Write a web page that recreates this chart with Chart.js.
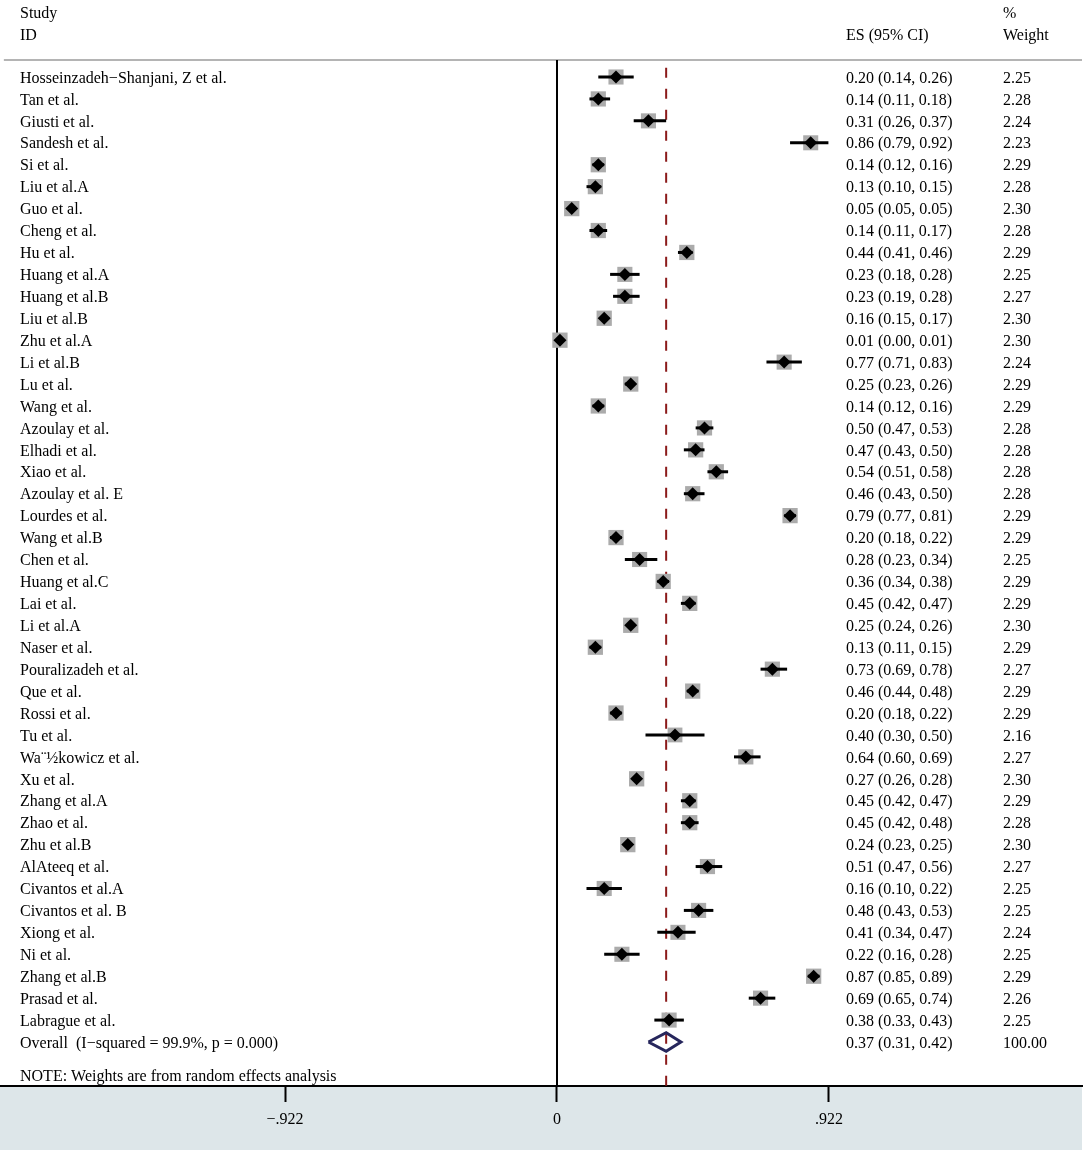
<!DOCTYPE html>
<html>
<head>
<meta charset="utf-8">
<script src="https://cdn.jsdelivr.net/npm/chart.js@4.4.1/dist/chart.umd.min.js"></script>
<style>
  html, body { margin: 0; padding: 0; background: #fff; }
  #wrap { position: relative; width: 1084px; height: 1154px; }
</style>
</head>
<body>
<div id="wrap"><canvas id="forest"></canvas></div>
<script>
// study rows, top to bottom
var studies = [
  "Hosseinzadeh\u2212Shanjani, Z et al.", "Tan et al.", "Giusti et al.", "Sandesh et al.",
  "Si et al.", "Liu et al.A", "Guo et al.", "Cheng et al.", "Hu et al.", "Huang et al.A",
  "Huang et al.B", "Liu et al.B", "Zhu et al.A", "Li et al.B", "Lu et al.", "Wang et al.",
  "Azoulay et al.", "Elhadi et al.", "Xiao et al.", "Azoulay et al. E", "Lourdes et al.",
  "Wang et al.B", "Chen et al.", "Huang et al.C", "Lai et al.", "Li et al.A", "Naser et al.",
  "Pouralizadeh et al.", "Que et al.", "Rossi et al.", "Tu et al.", "Wa\u00A8\u00BDkowicz et al.",
  "Xu et al.", "Zhang et al.A", "Zhao et al.", "Zhu et al.B", "AlAteeq et al.",
  "Civantos et al.A", "Civantos et al. B", "Xiong et al.", "Ni et al.", "Zhang et al.B",
  "Prasad et al.", "Labrague et al."
];
var es = [0.20, 0.14, 0.31, 0.86, 0.14, 0.13, 0.05, 0.14, 0.44, 0.23,
          0.23, 0.16, 0.01, 0.77, 0.25, 0.14, 0.50, 0.47, 0.54, 0.46,
          0.79, 0.20, 0.28, 0.36, 0.45, 0.25, 0.13, 0.73, 0.46, 0.20,
          0.40, 0.64, 0.27, 0.45, 0.45, 0.24, 0.51, 0.16, 0.48, 0.41,
          0.22, 0.87, 0.69, 0.38];
var lower = [0.14, 0.11, 0.26, 0.79, 0.12, 0.10, 0.05, 0.11, 0.41, 0.18,
             0.19, 0.15, 0.00, 0.71, 0.23, 0.12, 0.47, 0.43, 0.51, 0.43,
             0.77, 0.18, 0.23, 0.34, 0.42, 0.24, 0.11, 0.69, 0.44, 0.18,
             0.30, 0.60, 0.26, 0.42, 0.42, 0.23, 0.47, 0.10, 0.43, 0.34,
             0.16, 0.85, 0.65, 0.33];
var upper = [0.26, 0.18, 0.37, 0.92, 0.16, 0.15, 0.05, 0.17, 0.46, 0.28,
             0.28, 0.17, 0.01, 0.83, 0.26, 0.16, 0.53, 0.50, 0.58, 0.50,
             0.81, 0.22, 0.34, 0.38, 0.47, 0.26, 0.15, 0.78, 0.48, 0.22,
             0.50, 0.69, 0.28, 0.47, 0.48, 0.25, 0.56, 0.22, 0.53, 0.47,
             0.28, 0.89, 0.74, 0.43];
var weights = ["2.25", "2.28", "2.24", "2.23", "2.29", "2.28", "2.30", "2.28", "2.29", "2.25",
               "2.27", "2.30", "2.30", "2.24", "2.29", "2.29", "2.28", "2.28", "2.28", "2.28",
               "2.29", "2.29", "2.25", "2.29", "2.29", "2.30", "2.29", "2.27", "2.29", "2.29",
               "2.16", "2.27", "2.30", "2.29", "2.28", "2.30", "2.27", "2.25", "2.25", "2.24",
               "2.25", "2.29", "2.26", "2.25"];

var overallLabel = "Overall  (I\u2212squared = 99.9%, p = 0.000)";
var overallES = 0.37;
var overallLower = 0.31;
var overallUpper = 0.42;
var overallWeight = "100.00";

var tickValues = [-0.922, 0, 0.922];
var tickLabels = ["\u2212.922", "0", ".922"];

// scale ranges chosen so rows and ticks land where the original sits
var xMin = -1.88807, xMax = 1.77960;
var yMin = -3.5108, yMax = 46.006;
var overallRow = studies.length;

var serif = "'Liberation Serif', 'Times New Roman', serif";

function fmt(v) { return v.toFixed(2); }

var datasets = [];

// black point diamonds (drawn on top)
datasets.push({
  data: es.map(function (v, i) { return { x: v, y: i }; }),
  pointStyle: "rectRot",
  pointRadius: 6.5,
  backgroundColor: "#000",
  borderWidth: 0,
  order: 0
});

// confidence intervals
studies.forEach(function (s, i) {
  datasets.push({
    data: [{ x: lower[i], y: i }, { x: upper[i], y: i }],
    showLine: true,
    borderColor: "#000",
    borderWidth: 3,
    pointRadius: 0,
    order: 1
  });
});

// weight boxes
datasets.push({
  data: es.map(function (v, i) { return { x: v, y: i }; }),
  pointStyle: "rect",
  pointRadius: weights.map(function (w) { return 10.8 * Math.sqrt(parseFloat(w) / 2.30); }),
  backgroundColor: "#ababab",
  borderWidth: 0,
  order: 2
});

// overall diamond
datasets.push({
  data: [
    { x: overallLower, y: overallRow },
    { x: overallES, y: overallRow - 0.42 },
    { x: overallUpper, y: overallRow },
    { x: overallES, y: overallRow + 0.42 },
    { x: overallLower, y: overallRow }
  ],
  showLine: true,
  borderColor: "#26265c",
  borderWidth: 3,
  pointRadius: 0,
  order: 0
});

// pooled estimate reference line
datasets.push({
  data: [{ x: overallES, y: -0.42 }, { x: overallES, y: yMax }],
  showLine: true,
  borderColor: "#8b1a1a",
  borderWidth: 2,
  borderDash: [10, 11],
  pointRadius: 0,
  order: 3
});

// null line at zero
datasets.push({
  data: [{ x: 0, y: -0.775 }, { x: 0, y: yMax }],
  showLine: true,
  borderColor: "#000",
  borderWidth: 2,
  pointRadius: 0,
  order: 3
});

// header rule
datasets.push({
  data: [{ x: -1.875, y: -0.775 }, { x: xMax, y: -0.775 }],
  showLine: true,
  borderColor: "#b4b4b4",
  borderWidth: 2,
  pointRadius: 0,
  order: 4
});

var bandPlugin = {
  id: "band",
  beforeDraw: function (chart) {
    var ctx = chart.ctx, a = chart.chartArea;
    ctx.save();
    ctx.fillStyle = "#dde6e9";
    ctx.fillRect(a.left, a.bottom, a.right - a.left, 1150 - a.bottom);
    ctx.restore();
  }
};

var textPlugin = {
  id: "texts",
  afterDraw: function (chart) {
    var ctx = chart.ctx, y = chart.scales.y;
    var dy = 1.5; // serif glyphs sit a little high with a middle baseline
    ctx.save();
    ctx.fillStyle = "#000";
    ctx.font = "16px " + serif;
    ctx.textBaseline = "middle";
    ctx.textAlign = "left";
    ctx.fillText("Study", 20, 12 + dy);
    ctx.fillText("ID", 20, 34 + dy);
    ctx.fillText("ES (95% CI)", 846, 34 + dy);
    ctx.fillText("%", 1003, 12 + dy);
    ctx.fillText("Weight", 1003, 34 + dy);
    studies.forEach(function (s, i) {
      var py = y.getPixelForValue(i) + dy;
      ctx.fillText(s, 20, py);
      ctx.fillText(fmt(es[i]) + " (" + fmt(lower[i]) + ", " + fmt(upper[i]) + ")", 846, py);
      ctx.fillText(weights[i], 1003, py);
    });
    var oy = y.getPixelForValue(overallRow) + dy;
    ctx.fillText(overallLabel, 20, oy);
    ctx.fillText(fmt(overallES) + " (" + fmt(overallLower) + ", " + fmt(overallUpper) + ")", 846, oy);
    ctx.fillText(overallWeight, 1003, oy);
    ctx.fillText("NOTE: Weights are from random effects analysis", 20, 1075 + dy);
    ctx.restore();
  }
};

new Chart(document.getElementById("forest").getContext("2d"), {
  type: "scatter",
  data: { datasets: datasets },
  options: {
    responsive: true,
    maintainAspectRatio: false,
    animation: false,
    events: [],
    layout: { autoPadding: false, padding: { left: 0, right: 2, top: 0, bottom: 0 } },
    elements: { line: { tension: 0 } },
    plugins: { legend: { display: false }, tooltip: { enabled: false } },
    scales: {
      x: {
        type: "linear",
        min: xMin,
        max: xMax,
        afterBuildTicks: function (scale) {
          scale.ticks = tickValues.map(function (v) { return { value: v }; });
        },
        afterFit: function (scale) { scale.height = 68; },
        grid: { drawOnChartArea: false, drawTicks: true, tickLength: 16, tickColor: "#000", tickWidth: 2 },
        border: { display: true, color: "#000", width: 2 },
        ticks: {
          color: "#000",
          font: { family: serif, size: 16 },
          padding: 8,
          autoSkip: false,
          maxRotation: 0,
          callback: function (v) { return tickLabels[tickValues.indexOf(v)]; }
        }
      },
      y: { type: "linear", display: false, reverse: true, min: yMin, max: yMax }
    }
  },
  plugins: [bandPlugin, textPlugin]
});
</script>
</body>
</html>
